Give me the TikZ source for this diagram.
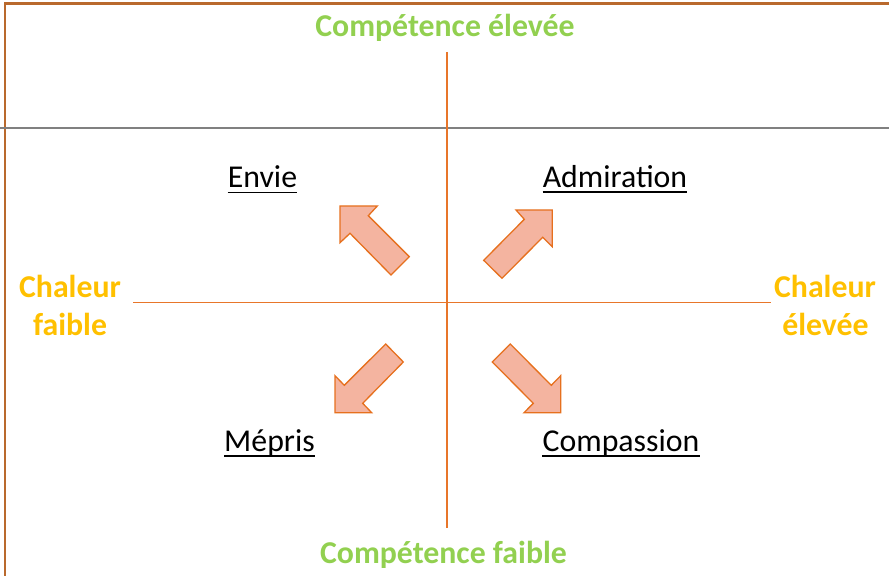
\documentclass[tikz,border=0pt]{standalone}
\usepackage{fontspec}
\setmainfont{Carlito}
\definecolor{cgreen}{RGB}{146,208,80}
\definecolor{cgold}{RGB}{255,192,0}
\definecolor{caxis}{RGB}{232,118,42}
\definecolor{cframe}{RGB}{185,105,45}
\definecolor{cfill}{RGB}{244,180,160}
\definecolor{cedge}{RGB}{230,112,30}
\tikzset{
  axisline/.style={draw=caxis,line width=1.5bp},
  framestyle/.style={draw=cframe,line width=2.2bp},
  bigbold/.style={font=\fontsize{31.8bp}{38bp}\selectfont\bfseries,inner sep=0pt},
  greenlabel/.style={bigbold,text=cgreen},
  goldlabel/.style={bigbold,text=cgold},
  emolabel/.style={font=\fontsize{31.8bp}{38bp}\selectfont,inner sep=0pt,anchor=base,text=black},
  uline/.style={draw=black,line width=1.6bp},
  arrowshape/.style={fill=cfill,draw=cedge,line width=1.3bp,line join=miter}
}
\begin{document}
\begin{tikzpicture}[x=1bp,y=-1bp]
\useasboundingbox (0,0) rectangle (889,576);
% frame
\draw[framestyle] (5,576) -- (5,3.5) -- (889,3.5);
\draw[gray,line width=1.2bp] (0,128) -- (889,128);
% axes
\coordinate (vtop) at (447,52);
\coordinate (vbot) at (447,528);
\coordinate (hleft) at (133,302.5);
\coordinate (hright) at (771,302.5);
\draw[axisline] (vtop) -- (vbot);
\draw[axisline] (hleft) -- (hright);
% axis labels
\node[greenlabel,anchor=base] (ctop) at (445,37) {Compétence élevée};
\node[greenlabel,anchor=base] (cbot) at (443.5,563) {Compétence faible};
\node[goldlabel,anchor=base] (chl1) at (70,297) {Chaleur};
\node[goldlabel,anchor=base] (chl2) at (70,335) {faible};
\node[goldlabel,anchor=base] (chr1) at (825,297) {Chaleur};
\node[goldlabel,anchor=base] (chr2) at (825.5,335) {élevée};
% emotion labels
\node[emolabel] (envie) at (262.5,188) {Envie};
\node[emolabel] (admi) at (615,187.5) {Admiration};
\node[emolabel] (mepr) at (269.5,451.5) {Mépris};
\node[emolabel] (comp) at (621,451.5) {Compassion};
\foreach \n in {envie,admi,mepr,comp}{
  \draw[uline] ([yshift=-4.5bp]\n.base west) -- ([yshift=-4.5bp]\n.base east);
}
% arrows
\draw[arrowshape] (340,206) -- (377.3,206) -- (368.3,215.7) -- (409.3,256.7) -- (391,275) -- (350,233.3) -- (340,242.7) -- cycle;
\draw[arrowshape] (552.3,210) -- (552.3,246.7) -- (542.7,237.3) -- (502,278.3) -- (483.7,260.3) -- (524.3,219.3) -- (516,210) -- cycle;
\draw[arrowshape] (335,375.7) -- (335,412.7) -- (371.7,412.7) -- (362.7,403.3) -- (403.3,362) -- (385.7,344) -- (344.3,385.3) -- cycle;
\draw[arrowshape] (560.7,375.7) -- (560.7,412.7) -- (524,412.7) -- (533.3,403.3) -- (492.3,362) -- (510.3,344) -- (551.3,385.3) -- cycle;
\end{tikzpicture}
\end{document}
